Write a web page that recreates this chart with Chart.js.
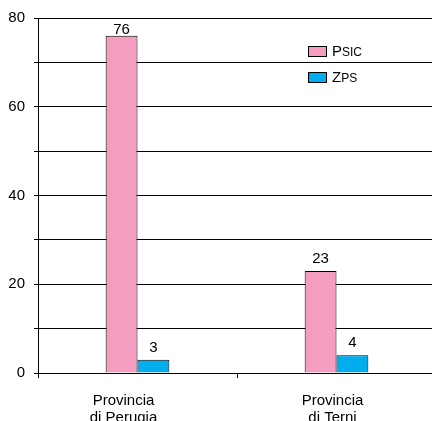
<!DOCTYPE html>
<html>
<head>
<meta charset="utf-8">
<script src="https://cdn.jsdelivr.net/npm/chart.js@4/dist/chart.umd.min.js"></script>
<style>
  html, body { margin: 0; padding: 0; background: #fff; overflow: hidden; }
  #wrap { width: 432px; height: 421px; overflow: hidden; }
</style>
</head>
<body>
<div id="wrap"><canvas id="chart" width="436" height="421"></canvas></div>
<script>
const categories = [["Provincia", "di Perugia"], ["Provincia", "di Terni"]];
const psicValues = [76, 23];
const zpsValues = [3, 4];
const yMax = 80;
const yStep = 10;

const FONT = "'Liberation Sans', Arial, sans-serif";
// the original labels sit a little left of the category centre
const labelShift = [-14, -4];

// value labels above each bar (kept inside the plot at the top)
const valueLabels = {
  id: "valueLabels",
  afterDatasetsDraw(chart) {
    const ctx = chart.ctx;
    const top = chart.chartArea.top;
    ctx.save();
    ctx.font = "15px " + FONT;
    ctx.fillStyle = "#000";
    ctx.textAlign = "center";
    ctx.textBaseline = "alphabetic";
    chart.data.datasets.forEach((ds, i) => {
      chart.getDatasetMeta(i).data.forEach((el, j) => {
        const y = Math.max(el.y - 8, top + 16);
        ctx.fillText(ds.data[j], el.x, y);
      });
    });
    ctx.restore();
  },
};

// category labels under the x axis
const categoryLabels = {
  id: "categoryLabels",
  afterDraw(chart) {
    const ctx = chart.ctx;
    const xs = chart.scales.x;
    ctx.save();
    ctx.font = "15px " + FONT;
    ctx.fillStyle = "#000";
    ctx.textAlign = "center";
    ctx.textBaseline = "middle";
    chart.data.labels.forEach((lines, i) => {
      const x = xs.getPixelForTick(i) + labelShift[i];
      lines.forEach((line, k) => {
        ctx.fillText(line, x, xs.top + 28 + k * 16.5);
      });
    });
    ctx.restore();
  },
};

// legend with small caps text (P + SIC, Z + PS)
const smallCapsLegend = {
  id: "smallCapsLegend",
  afterDraw(chart) {
    const ctx = chart.ctx;
    const items = [
      { big: "P", small: "SIC", color: chart.data.datasets[0].backgroundColor, y: 46 },
      { big: "Z", small: "PS", color: chart.data.datasets[1].backgroundColor, y: 72 },
    ];
    ctx.save();
    items.forEach((it) => {
      ctx.fillStyle = it.color;
      ctx.fillRect(308.5, it.y + 0.5, 18, 10);
      ctx.strokeStyle = "#000";
      ctx.lineWidth = 1;
      ctx.strokeRect(308.5, it.y + 0.5, 18, 10);
      ctx.fillStyle = "#000";
      ctx.textBaseline = "alphabetic";
      ctx.textAlign = "left";
      ctx.font = "15px " + FONT;
      ctx.fillText(it.big, 332, it.y + 10);
      const w = ctx.measureText(it.big).width;
      ctx.font = "12px " + FONT;
      ctx.fillText(it.small, 332 + w, it.y + 10);
    });
    ctx.restore();
  },
};

new Chart(document.getElementById("chart").getContext("2d"), {
  type: "bar",
  data: {
    labels: categories,
    datasets: [
      {
        label: "PSIC",
        data: psicValues,
        backgroundColor: "#F59DC0",
        borderColor: "#000",
        borderWidth: 1,
        categoryPercentage: 0.32,
        barPercentage: 1,
      },
      {
        label: "ZPS",
        data: zpsValues,
        backgroundColor: "#00AEEF",
        borderColor: "#000",
        borderWidth: 1,
        categoryPercentage: 0.32,
        barPercentage: 1,
      },
    ],
  },
  options: {
    responsive: false,
    animation: false,
    layout: { padding: { top: 18, right: 0, left: 0, bottom: 0 } },
    plugins: {
      legend: { display: false },
      tooltip: { enabled: false },
    },
    scales: {
      x: {
        grid: {
          display: true,
          drawOnChartArea: false,
          offset: true,
          color: "#000",
          tickLength: 5,
        },
        border: { color: "#000", width: 1 },
        ticks: { display: false },
        afterFit(scale) {
          scale.height = 48;
        },
      },
      y: {
        min: 0,
        max: yMax,
        grid: { color: "#000", tickLength: 4 },
        border: { color: "#000", width: 1 },
        ticks: {
          stepSize: yStep,
          color: "#000",
          font: { family: FONT, size: 15 },
          padding: 9,
          callback: function (value) {
            return value % 20 === 0 ? value : "";
          },
        },
        afterFit(scale) {
          scale.width = 38;
        },
      },
    },
  },
  plugins: [valueLabels, categoryLabels, smallCapsLegend],
});
</script>
</body>
</html>
